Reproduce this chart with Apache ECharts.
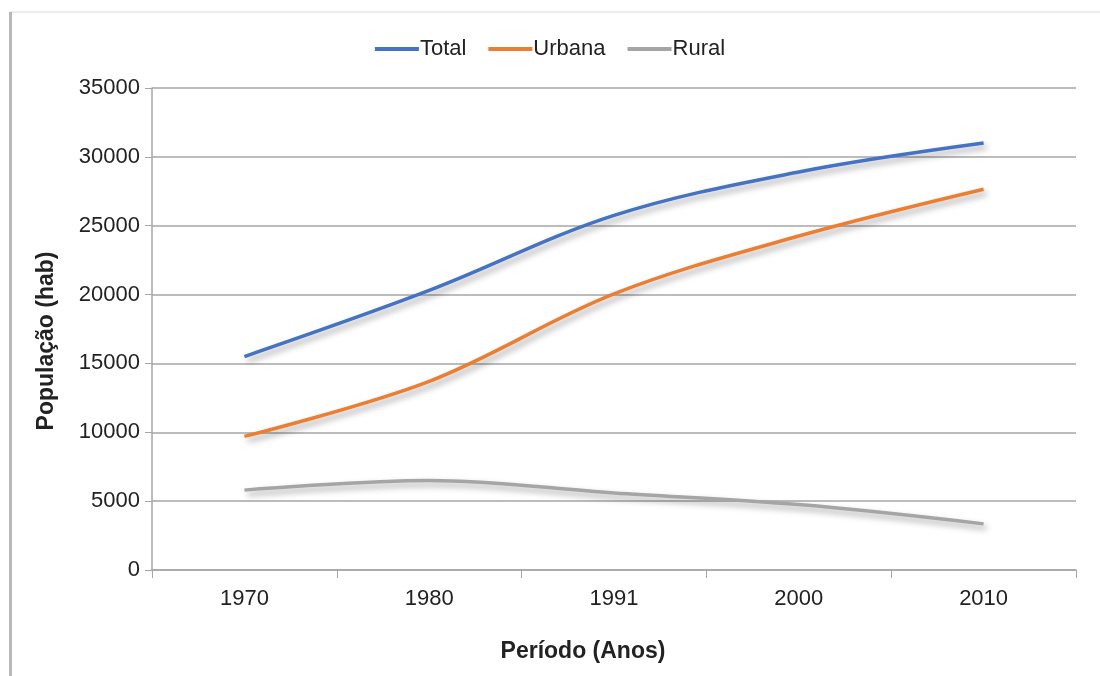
<!DOCTYPE html>
<html>
<head>
<meta charset="utf-8">
<script src="https://cdn.jsdelivr.net/npm/echarts@6/dist/echarts.min.js"></script>
<style>
  html, body { margin: 0; padding: 0; background: #fff; }
  #chart { width: 1100px; height: 676px; }
</style>
</head>
<body>
<div id="chart"></div>
<script>
const anos = ['1970', '1980', '1991', '2000', '2010']
const total = [15500, 20300, 25750, 28900, 31000]
const urbana = [9700, 13700, 20050, 24250, 27650]
const rural = [5800, 6500, 5600, 4750, 3350]

const chart = echarts.init(document.getElementById('chart'))

const shadow = {
  shadowColor: 'rgba(0,0,0,0.35)',
  shadowBlur: 6,
  shadowOffsetX: 3,
  shadowOffsetY: 4
}

function serie(name, data, color) {
  return {
    name: name,
    type: 'line',
    smooth: 0.35,
    symbol: 'none',
    data: data,
    lineStyle: Object.assign({ width: 3.5, color: color }, shadow),
    itemStyle: { color: color }
  }
}

chart.setOption({
  animation: false,
  textStyle: { fontFamily: 'Liberation Sans, Arial, sans-serif' },
  graphic: [
    {
      type: 'rect',
      shape: { x: 10, y: 12, width: 1100, height: 700 },
      style: { fill: 'none', stroke: '#d9d9d9', lineWidth: 1 }
    },
    {
      type: 'rect',
      shape: { x: 9, y: 12, width: 3, height: 664 },
      style: { fill: '#b8b8b8' }
    }
  ],
  legend: {
    top: 33,
    left: 'center',
    itemWidth: 44,
    itemHeight: 4,
    itemGap: 22,
    icon: 'rect',
    textStyle: { fontSize: 22, color: '#222', padding: [0, 0, 0, -4] },
    data: ['Total', 'Urbana', 'Rural']
  },
  grid: {
    left: 152,
    right: 24,
    top: 88,
    bottom: 106
  },
  xAxis: {
    type: 'category',
    data: anos,
    boundaryGap: true,
    name: 'Período (Anos)',
    nameLocation: 'middle',
    nameGap: 70,
    nameTextStyle: { fontSize: 23, fontWeight: 'bold', color: '#222', padding: [0, 62, 0, 0] },
    axisLine: { lineStyle: { color: '#a6a6a6', width: 1.5 } },
    axisTick: { show: true, length: 8, lineStyle: { color: '#a6a6a6' } },
    axisLabel: { fontSize: 22, color: '#222', margin: 18 },
  },
  yAxis: {
    type: 'value',
    min: 0,
    max: 35000,
    interval: 5000,
    name: 'População (hab)',
    nameLocation: 'middle',
    nameGap: 94,
    nameTextStyle: { fontSize: 23, fontWeight: 'bold', color: '#222', padding: [0, 24, 0, 0] },
    axisLine: { show: true, lineStyle: { color: '#a6a6a6', width: 1.5 } },
    axisTick: { show: true, length: 7, lineStyle: { color: '#a6a6a6' } },
    axisLabel: { fontSize: 22, color: '#222', margin: 12, formatter: v => String(v) },
    splitLine: { lineStyle: { color: '#a6a6a6', width: 1.5 } }
  },
  series: [
    serie('Total', total, '#4472c4'),
    serie('Urbana', urbana, '#ed7d31'),
    serie('Rural', rural, '#a5a5a5')
  ]
})
</script>
</body>
</html>
